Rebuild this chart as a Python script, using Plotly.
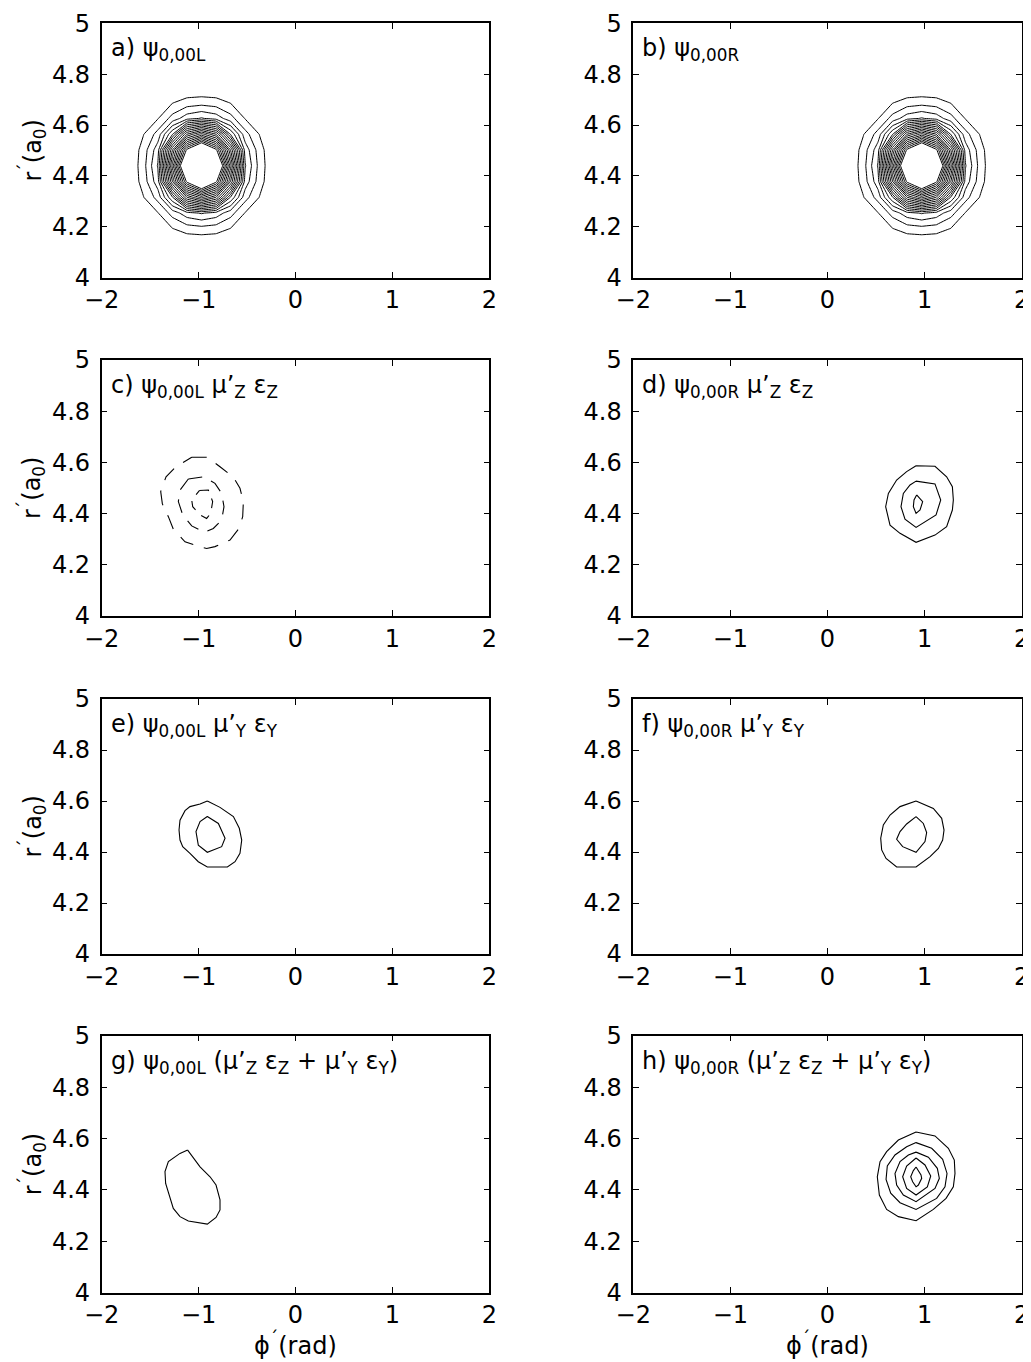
import plotly.graph_objects as go

# ---------------- data ----------------
# panels a / b : gridded wavefunction magnitude (level units)
a_phi = [-1.72, -1.57, -1.42, -1.27, -1.12, -0.97, -0.82, -0.67, -0.52, -0.37, -0.22]
b_phi = [0.22, 0.37, 0.52, 0.67, 0.82, 0.97, 1.12, 1.27, 1.42, 1.57, 1.72]
ab_r = [4.13, 4.192, 4.254, 4.316, 4.378, 4.44, 4.502, 4.564, 4.626, 4.688, 4.75]
a_psi = [
    [0, 0, 0, 0, 0, 0, 0, 0, 0, 0, 0],
    [0, 0, 0, 0.95, 1.45, 1.6, 1.45, 0.95, 0, 0, 0],
    [0, 0, 0.95, 2.4, 3.6, 4.1, 3.6, 2.4, 0.95, 0, 0],
    [0, 0.95, 2.4, 5.9, 12.0, 14.4, 12.0, 5.9, 2.4, 0.95, 0],
    [0, 1.45, 3.6, 12.0, 20.4, 24.7, 20.4, 12.0, 3.6, 1.45, 0],
    [0, 1.6, 4.1, 14.4, 24.7, 30.0, 24.7, 14.4, 4.1, 1.6, 0],
    [0, 1.45, 3.6, 12.0, 20.4, 24.7, 20.4, 12.0, 3.6, 1.45, 0],
    [0, 0.95, 2.4, 5.9, 12.0, 14.4, 12.0, 5.9, 2.4, 0.95, 0],
    [0, 0, 0.95, 2.4, 3.6, 4.1, 3.6, 2.4, 0.95, 0, 0],
    [0, 0, 0, 0.95, 1.45, 1.6, 1.45, 0.95, 0, 0, 0],
    [0, 0, 0, 0, 0, 0, 0, 0, 0, 0, 0],
]
b_psi = [
    [0, 0, 0, 0, 0, 0, 0, 0, 0, 0, 0],
    [0, 0, 0, 0.95, 1.45, 1.6, 1.45, 0.95, 0, 0, 0],
    [0, 0, 0.95, 2.4, 3.6, 4.1, 3.6, 2.4, 0.95, 0, 0],
    [0, 0.95, 2.4, 5.9, 12.0, 14.4, 12.0, 5.9, 2.4, 0.95, 0],
    [0, 1.45, 3.6, 12.0, 20.4, 24.7, 20.4, 12.0, 3.6, 1.45, 0],
    [0, 1.6, 4.1, 14.4, 24.7, 30.0, 24.7, 14.4, 4.1, 1.6, 0],
    [0, 1.45, 3.6, 12.0, 20.4, 24.7, 20.4, 12.0, 3.6, 1.45, 0],
    [0, 0.95, 2.4, 5.9, 12.0, 14.4, 12.0, 5.9, 2.4, 0.95, 0],
    [0, 0, 0.95, 2.4, 3.6, 4.1, 3.6, 2.4, 0.95, 0, 0],
    [0, 0, 0, 0.95, 1.45, 1.6, 1.45, 0.95, 0, 0, 0],
    [0, 0, 0, 0, 0, 0, 0, 0, 0, 0, 0],
]
ab_levels = [1, 20, 1]  # start, end, step

# panel c (negative -> dashed contours)
c_outer_phi = [-1.071, -0.910, -0.779, -0.641, -0.573, -0.538, -0.545, -0.583, -0.676, -0.831, -0.917,
               -0.992, -1.140, -1.261, -1.312, -1.374, -1.391, -1.336, -1.233, -1.123, -1.071]
c_outer_r = [4.620, 4.620, 4.583, 4.542, 4.499, 4.447, 4.388, 4.342, 4.297, 4.271, 4.264,
             4.271, 4.290, 4.339, 4.388, 4.438, 4.486, 4.544, 4.583, 4.609, 4.620]
c_mid_phi = [-1.106, -0.944, -0.831, -0.762, -0.738, -0.762, -0.848, -0.944, -1.071, -1.164, -1.209, -1.192, -1.106]
c_mid_r = [4.535, 4.544, 4.518, 4.479, 4.427, 4.375, 4.342, 4.327, 4.352, 4.395, 4.447, 4.492, 4.535]
c_inner_phi = [-0.992, -0.899, -0.855, -0.875, -0.917, -0.985, -1.061, -1.071, -0.992]
c_inner_r = [4.490, 4.492, 4.447, 4.401, 4.381, 4.395, 4.427, 4.453, 4.490]

# panel d
d_outer_phi = [0.912, 1.107, 1.227, 1.286, 1.296, 1.286, 1.227, 1.107, 0.912, 0.747, 0.644, 0.599, 0.627, 0.712, 0.815, 0.912]
d_outer_r = [4.587, 4.585, 4.544, 4.505, 4.453, 4.414, 4.349, 4.316, 4.288, 4.323, 4.355, 4.427, 4.479, 4.531, 4.564, 4.587]
d_mid_phi = [0.912, 1.107, 1.166, 1.118, 0.912, 0.798, 0.757, 0.781, 0.850, 0.912]
d_mid_r = [4.527, 4.516, 4.453, 4.395, 4.346, 4.378, 4.427, 4.479, 4.512, 4.527]
d_inner_phi = [0.918, 0.980, 0.953, 0.912, 0.884, 0.891, 0.918]
d_inner_r = [4.473, 4.447, 4.414, 4.401, 4.427, 4.453, 4.473]

# panel e
e_outer_phi = [-0.910, -0.779, -0.641, -0.580, -0.555, -0.573, -0.624, -0.703, -0.910, -1.003, -1.089,
               -1.164, -1.192, -1.202, -1.192, -1.140, -1.089, -0.985, -0.910]
e_outer_r = [4.600, 4.575, 4.539, 4.493, 4.447, 4.395, 4.362, 4.341, 4.341, 4.362, 4.395,
             4.421, 4.447, 4.486, 4.525, 4.562, 4.578, 4.588, 4.600]
e_inner_phi = [-0.910, -0.796, -0.727, -0.762, -0.910, -1.003, -1.027, -0.985, -0.910]
e_inner_r = [4.539, 4.512, 4.454, 4.421, 4.399, 4.427, 4.480, 4.519, 4.539]

# panel f
f_outer_phi = [0.912, 1.090, 1.176, 1.200, 1.186, 1.142, 1.056, 0.912, 0.712, 0.603, 0.558, 0.548, 0.575, 0.644, 0.747, 0.912]
f_outer_r = [4.600, 4.571, 4.532, 4.486, 4.447, 4.414, 4.382, 4.341, 4.341, 4.375, 4.408, 4.454, 4.506, 4.545, 4.578, 4.600]
f_inner_phi = [0.912, 0.987, 1.021, 1.004, 0.912, 0.774, 0.712, 0.747, 0.815, 0.912]
f_inner_r = [4.539, 4.512, 4.476, 4.441, 4.399, 4.421, 4.450, 4.480, 4.510, 4.539]

# panel g
g_phi = [-1.113, -1.054, -0.985, -0.882, -0.820, -0.779, -0.779, -0.820, -0.910, -1.106, -1.192,
         -1.261, -1.302, -1.340, -1.347, -1.312, -1.192, -1.113]
g_r = [4.555, 4.523, 4.490, 4.451, 4.419, 4.361, 4.322, 4.293, 4.267, 4.279, 4.296,
       4.328, 4.374, 4.425, 4.471, 4.510, 4.542, 4.555]

# panel h
h1_phi = [0.912, 1.107, 1.245, 1.306, 1.313, 1.296, 1.221, 1.090, 0.912, 0.730, 0.609, 0.534, 0.513, 0.541, 0.609, 0.730, 0.912]
h1_r = [4.625, 4.610, 4.562, 4.516, 4.464, 4.412, 4.367, 4.324, 4.280, 4.296, 4.324, 4.380, 4.451, 4.510, 4.549, 4.594, 4.625]
h2_phi = [0.912, 1.073, 1.186, 1.231, 1.210, 1.124, 0.912, 0.747, 0.651, 0.603, 0.616, 0.695, 0.815, 0.912]
h2_r = [4.584, 4.562, 4.519, 4.464, 4.412, 4.367, 4.324, 4.350, 4.387, 4.441, 4.493, 4.536, 4.568, 4.584]
h3_phi = [0.912, 1.039, 1.131, 1.152, 1.107, 0.912, 0.781, 0.712, 0.695, 0.747, 0.833, 0.912]
h3_r = [4.547, 4.527, 4.484, 4.445, 4.406, 4.354, 4.380, 4.419, 4.464, 4.510, 4.536, 4.547]
h4_phi = [0.912, 1.004, 1.063, 1.028, 0.912, 0.815, 0.774, 0.815, 0.912]
h4_r = [4.524, 4.497, 4.454, 4.412, 4.380, 4.406, 4.451, 4.493, 4.524]
h5_phi = [0.912, 0.963, 0.970, 0.936, 0.912, 0.877, 0.857, 0.884, 0.912]
h5_r = [4.489, 4.458, 4.445, 4.419, 4.412, 4.432, 4.451, 4.475, 4.489]

x_ticks = [-2, -1, 0, 1, 2]
x_ticktext = ["\u22122", "\u22121", "0", "1", "2"]
y_ticks = [4, 4.2, 4.4, 4.6, 4.8, 5]
y_ticktext = ["4", "4.2", "4.4", "4.6", "4.8", "5"]

panel_labels = [
    "a) \u03c8<sub>0,00L</sub>",
    "b) \u03c8<sub>0,00R</sub>",
    "c) \u03c8<sub>0,00L</sub> \u03bc\u2019<sub>Z</sub> \u03b5<sub>Z</sub>",
    "d) \u03c8<sub>0,00R</sub> \u03bc\u2019<sub>Z</sub> \u03b5<sub>Z</sub>",
    "e) \u03c8<sub>0,00L</sub> \u03bc\u2019<sub>Y</sub> \u03b5<sub>Y</sub>",
    "f) \u03c8<sub>0,00R</sub> \u03bc\u2019<sub>Y</sub> \u03b5<sub>Y</sub>",
    "g) \u03c8<sub>0,00L</sub> (\u03bc\u2019<sub>Z</sub> \u03b5<sub>Z</sub> + \u03bc\u2019<sub>Y</sub> \u03b5<sub>Y</sub>)",
    "h) \u03c8<sub>0,00R</sub> (\u03bc\u2019<sub>Z</sub> \u03b5<sub>Z</sub> + \u03bc\u2019<sub>Y</sub> \u03b5<sub>Y</sub>)",
]

# ---------------- figure ----------------
FONT = "DejaVu Sans, Liberation Sans, Arial, sans-serif"
FS = 24
OFF = 8                      # default page margin of the html body
W, H = 1031 - OFF, 1362 - OFF

def px_x(p):
    return (p - OFF) / W

def px_y(p):
    return 1 - (p - OFF) / H

x_dom = [[px_x(101.7), px_x(489.3)], [px_x(633.3), px_x(1021.7)]]
row_px = [(23.3, 277.7), (360.0, 616.0), (699.0, 954.0), (1035.7, 1292.7)]
y_dom = [[px_y(b), px_y(t)] for t, b in row_px]

fig = go.Figure()

def ax_ids(k):
    return ("x" if k == 1 else f"x{k}"), ("y" if k == 1 else f"y{k}")

# contour panels a, b
for k, (xs, zs) in ((1, (a_phi, a_psi)), (2, (b_phi, b_psi))):
    xa, ya = ax_ids(k)
    fig.add_trace(go.Contour(
        x=xs, y=ab_r, z=zs, xaxis=xa, yaxis=ya,
        autocontour=False,
        contours=dict(start=ab_levels[0], end=ab_levels[1], size=ab_levels[2], coloring="lines"),
        colorscale=[[0, "black"], [1, "black"]], showscale=False,
        line=dict(width=1.0, smoothing=0), hoverinfo="skip",
    ))

rings = [
    (3, c_outer_phi, c_outer_r, "15px,11px"), (3, c_mid_phi, c_mid_r, "14px,10px"), (3, c_inner_phi, c_inner_r, "10px,8px"),
    (4, d_outer_phi, d_outer_r, "solid"), (4, d_mid_phi, d_mid_r, "solid"), (4, d_inner_phi, d_inner_r, "solid"),
    (5, e_outer_phi, e_outer_r, "solid"), (5, e_inner_phi, e_inner_r, "solid"),
    (6, f_outer_phi, f_outer_r, "solid"), (6, f_inner_phi, f_inner_r, "solid"),
    (7, g_phi, g_r, "solid"),
    (8, h1_phi, h1_r, "solid"), (8, h2_phi, h2_r, "solid"), (8, h3_phi, h3_r, "solid"),
    (8, h4_phi, h4_r, "solid"), (8, h5_phi, h5_r, "solid"),
]
for k, px, py, dash in rings:
    xa, ya = ax_ids(k)
    fig.add_trace(go.Scatter(x=px, y=py, xaxis=xa, yaxis=ya, mode="lines",
                             line=dict(color="black", width=1.1, dash=dash),
                             showlegend=False, hoverinfo="skip"))

layout = dict(
    width=W, height=H, margin=dict(l=0, r=0, t=0, b=0, pad=0, autoexpand=False),
    paper_bgcolor="white", plot_bgcolor="white", showlegend=False,
    font=dict(family=FONT, size=FS, color="black"),
)
annotations = []
for k in range(1, 9):
    row = (k - 1) // 2
    col = (k - 1) % 2
    xname = "xaxis" if k == 1 else f"xaxis{k}"
    yname = "yaxis" if k == 1 else f"yaxis{k}"
    xa, ya = ax_ids(k)
    common = dict(showline=True, linecolor="black", linewidth=1.5, mirror="allticks",
                  ticks="inside", ticklen=6, tickwidth=1.2, tickcolor="black",
                  showgrid=False, zeroline=False, fixedrange=True, automargin=False,
                  tickfont=dict(family=FONT, size=FS, color="black"))
    layout[xname] = dict(domain=x_dom[col], anchor=ya, range=[-2, 2],
                         tickmode="array", tickvals=x_ticks, ticktext=x_ticktext, **common)
    layout[yname] = dict(domain=y_dom[row], anchor=xa, range=[4, 5],
                         tickmode="array", tickvals=y_ticks, ticktext=y_ticktext,
                         ticklabelstandoff=5, **common)
    annotations.append(dict(
        text=panel_labels[k - 1], xref=f"{xa} domain", yref=f"{ya} domain",
        x=0.018, y=0.965, xanchor="left", yanchor="top", showarrow=False,
        font=dict(family=FONT, size=FS, color="black"),
    ))
    if col == 0:
        yc = (y_dom[row][0] + y_dom[row][1]) / 2
        annotations.append(dict(
            text="r<sup>\u00b4</sup>(a<sub>0</sub>)", xref="paper", yref="paper",
            x=px_x(32), y=yc, xanchor="center", yanchor="middle", textangle=-90,
            showarrow=False, font=dict(family=FONT, size=FS, color="black"),
        ))
for col in (0, 1):
    xc = (x_dom[col][0] + x_dom[col][1]) / 2
    annotations.append(dict(
        text="\u03d5<sup>\u00b4</sup>(rad)", xref="paper", yref="paper",
        x=xc, y=px_y(1344), xanchor="center", yanchor="middle",
        showarrow=False, font=dict(family=FONT, size=FS, color="black"),
    ))
layout["annotations"] = annotations
fig.update_layout(**layout)

fig.write_html("out.html")
